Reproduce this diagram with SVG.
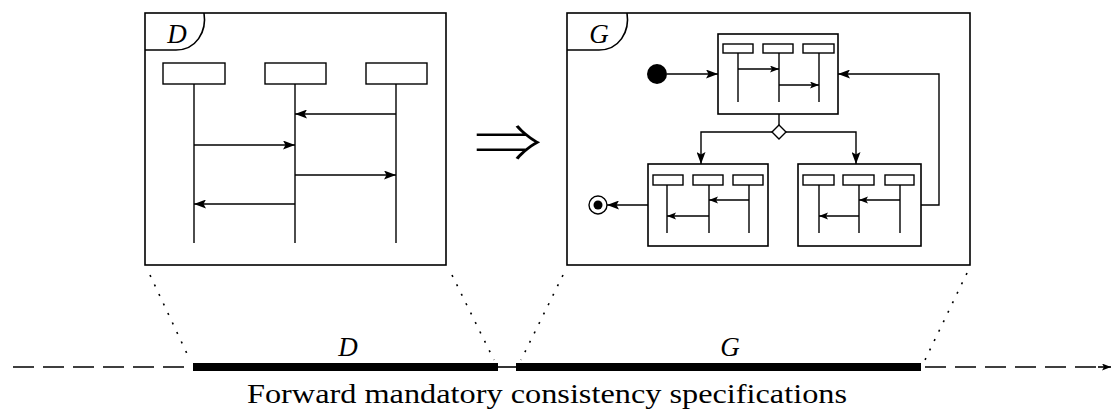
<svg xmlns="http://www.w3.org/2000/svg" width="1112" height="410" viewBox="0 0 1112 410">
<style>
.fr{fill:none;stroke:#000;stroke-width:1.6}
.ln{fill:none;stroke:#000;stroke-width:1.4}
.hd{fill:#fff;stroke:#000;stroke-width:1.4}
.lbl{font-style:italic;font-size:27px;fill:#000}
.cap{font-size:28px;fill:#000}
.dot{fill:none;stroke:#000;stroke-width:1.6;stroke-dasharray:2 8.5}
</style>
<defs>
<marker id="ah" markerUnits="userSpaceOnUse" markerWidth="13" markerHeight="9" refX="12" refY="4.5" orient="auto">
<path d="M0,0 L12,4.5 L0,9 L2.5,4.5 Z" fill="#000"/>
</marker>
<marker id="as" markerUnits="userSpaceOnUse" markerWidth="10" markerHeight="8" refX="9" refY="3.5" orient="auto">
<path d="M0,0 L9,3.5 L0,7 L2,3.5 Z" fill="#000"/>
</marker>
</defs>

<g id="frame-D">
<rect class="fr" x="145" y="13" width="301" height="252"/>
<path class="fr" d="M145,50 H176 C196,50 207,32 204,13"/>
<text class="lbl" font-family="Liberation Serif, serif" x="177" y="43" text-anchor="middle">D</text>
</g>
<g id="lifeline-D1"><rect class="hd" x="163" y="63" width="62" height="21"/><line class="ln" x1="194" y1="84" x2="194" y2="243"/></g>
<g id="lifeline-D2"><rect class="hd" x="265" y="63" width="61" height="21"/><line class="ln" x1="295" y1="84" x2="295" y2="243"/></g>
<g id="lifeline-D3"><rect class="hd" x="366" y="63" width="61" height="21"/><line class="ln" x1="396" y1="84" x2="396" y2="243"/></g>

<g id="implies"><text x="474" y="162" textLength="68" lengthAdjust="spacingAndGlyphs" font-family="Noto Sans CJK JP, sans-serif" font-weight="300" font-size="52" fill="#000">⇒</text></g>

<g id="frame-G">
<rect class="fr" x="567" y="13" width="403" height="252"/>
<path class="fr" d="M567,50 H599 C619,50 630,32 627,13"/>
<text class="lbl" font-family="Liberation Serif, serif" x="599" y="43" text-anchor="middle">G</text>
</g>
<g id="initial"><circle cx="657" cy="74" r="10" fill="#000"/></g>
<g id="final"><circle cx="598" cy="205" r="9" fill="#fff" stroke="#000" stroke-width="1.4"/><circle cx="598" cy="205" r="4.5" fill="#000"/></g>
<g id="decision"><path d="M779,125 L786,132 L779,139 L772,132 Z" fill="#fff" stroke="#000" stroke-width="1.4"/></g>

<g id="state-top">
<rect class="fr" x="718" y="34" width="120" height="80"/>
<rect class="hd" x="723" y="44" width="30" height="9"/>
<rect class="hd" x="763" y="44" width="30" height="9"/>
<rect class="hd" x="803" y="44" width="31" height="9"/>
<line class="ln" x1="738" y1="53" x2="738" y2="102"/>
<line class="ln" x1="779" y1="53" x2="779" y2="102"/>
<line class="ln" x1="819" y1="53" x2="819" y2="102"/>
<line class="ln" x1="738" y1="69" x2="779" y2="69" marker-end="url(#as)"/>
<line class="ln" x1="779" y1="85" x2="819" y2="85" marker-end="url(#as)"/>
</g>
<g id="state-left">
<rect class="fr" x="648" y="164" width="120" height="82"/>
<rect class="hd" x="653" y="175" width="30" height="10"/>
<rect class="hd" x="693" y="175" width="30" height="10"/>
<rect class="hd" x="733" y="175" width="30" height="10"/>
<line class="ln" x1="667" y1="185" x2="667" y2="233"/>
<line class="ln" x1="709" y1="185" x2="709" y2="233"/>
<line class="ln" x1="749" y1="185" x2="749" y2="233"/>
<line class="ln" x1="749" y1="200" x2="709" y2="200" marker-end="url(#as)"/>
<line class="ln" x1="709" y1="216" x2="667" y2="216" marker-end="url(#as)"/>
</g>
<g id="state-right">
<rect class="fr" x="798" y="164" width="123" height="82"/>
<rect class="hd" x="803" y="175" width="31" height="10"/>
<rect class="hd" x="843" y="175" width="31" height="10"/>
<rect class="hd" x="885" y="175" width="29" height="10"/>
<line class="ln" x1="819" y1="185" x2="819" y2="233"/>
<line class="ln" x1="859" y1="185" x2="859" y2="233"/>
<line class="ln" x1="900" y1="185" x2="900" y2="233"/>
<line class="ln" x1="900" y1="200" x2="859" y2="200" marker-end="url(#as)"/>
<line class="ln" x1="859" y1="216" x2="819" y2="216" marker-end="url(#as)"/>
</g>

<g id="timeline">
<line x1="13" y1="367" x2="186" y2="367" stroke="#000" stroke-width="1.6" stroke-dasharray="21 9"/>
<line x1="193" y1="367" x2="498" y2="367" stroke="#000" stroke-width="8"/>
<line x1="498" y1="367" x2="516" y2="367" stroke="#000" stroke-width="1.6"/>
<line x1="516" y1="367" x2="921" y2="367" stroke="#000" stroke-width="8"/>
<line x1="925" y1="367" x2="1100" y2="367" stroke="#000" stroke-width="1.6" stroke-dasharray="21 9"/>
<line x1="1098" y1="367" x2="1111" y2="367" stroke="#000" stroke-width="1.6" marker-end="url(#as)"/>
<text class="lbl" font-family="Liberation Serif, serif" x="348" y="356" text-anchor="middle">D</text>
<text class="lbl" font-family="Liberation Serif, serif" x="730" y="356" text-anchor="middle">G</text>
<text class="cap" font-family="Liberation Serif, serif" x="247" y="403" textLength="600" lengthAdjust="spacingAndGlyphs">Forward mandatory consistency specifications</text>
</g>

<g id="connectors">
<line class="ln" x1="396" y1="114" x2="295" y2="114" marker-end="url(#ah)"/>
<line class="ln" x1="194" y1="145" x2="295" y2="145" marker-end="url(#ah)"/>
<line class="ln" x1="295" y1="175" x2="396" y2="175" marker-end="url(#ah)"/>
<line class="ln" x1="295" y1="204" x2="194" y2="204" marker-end="url(#ah)"/>
<line class="ln" x1="667" y1="74" x2="718" y2="74" marker-end="url(#ah)"/>
<line class="ln" x1="779" y1="114" x2="779" y2="125"/>
<polyline class="ln" points="772,132 701,132 701,164" marker-end="url(#ah)"/>
<polyline class="ln" points="786,132 856,132 856,164" marker-end="url(#ah)"/>
<line class="ln" x1="648" y1="205" x2="607" y2="205" marker-end="url(#ah)"/>
<polyline class="ln" points="921,205 939,205 939,74 838,74" marker-end="url(#ah)"/>
<line class="dot" x1="150" y1="275" x2="190" y2="360"/>
<line class="dot" x1="452" y1="275" x2="494" y2="360"/>
<line class="dot" x1="563" y1="275" x2="521" y2="360"/>
<line class="dot" x1="967" y1="273" x2="925" y2="360"/>
</g>
</svg>
